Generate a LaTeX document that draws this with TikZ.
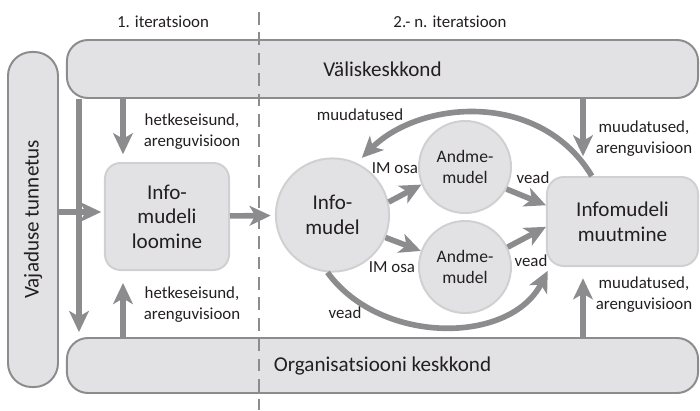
\documentclass[tikz,border=0pt]{standalone}
\usepackage{fontspec}
\setmainfont{Carlito}
\usetikzlibrary{arrows.meta}

\definecolor{panelfill}{RGB}{226,226,228}
\definecolor{panelline}{RGB}{140,140,142}
\definecolor{stepline}{RGB}{208,208,210}
\definecolor{flowgray}{RGB}{140,140,142}
\definecolor{ink}{RGB}{35,31,32}

\newcommand{\bigtext}{\fontsize{15}{17.5}\selectfont}
\newcommand{\midtext}{\fontsize{12.5}{15.5}\selectfont}
\newcommand{\smalltext}{\fontsize{12}{15}\selectfont}

\tikzset{
	panel/.style={draw=panelline, line width=1.4pt, fill=panelfill, rounded corners=15pt,
		inner sep=0pt, text=ink, font=\bigtext},
	stepbox/.style={draw=stepline, line width=1.4pt, fill=panelfill, rounded corners=11pt,
		inner sep=0pt, align=center, text=ink, font=\bigtext},
	bubble/.style={circle, draw=stepline, line width=1.4pt, fill=panelfill,
		inner sep=0pt, align=center, text=ink},
	flow/.style={draw=flowgray, line width=4pt, -{Stealth[length=15pt, width=14pt, inset=4pt]}},
	lbl/.style={inner sep=0pt, align=center, text=ink, font=\smalltext},
}

\begin{document}
\begin{tikzpicture}[x=0.025cm, y=-0.025cm]
	\useasboundingbox (0,0) rectangle (700,410);

	\node[panel, minimum width=15.775cm, minimum height=1.45cm] (valis) at (382.5,69) {Väliskeskkond};
	\node[panel, minimum width=15.775cm, minimum height=1.375cm] (org) at (382.5,365.5) {Organisatsiooni keskkond};
	\node[panel, rounded corners=17pt, minimum width=1.25cm, minimum height=8.375cm] (vajadus) at (33,219.5) {};
	\node[rotate=90, text=ink, font=\bigtext, inner sep=0pt] (vajadustext) at (vajadus.center) {Vajaduse tunnetus};

	\node[stepbox, minimum width=3.1cm, minimum height=2.675cm] (loomine) at (167,216.5) {Info-\\mudeli\\loomine};
	\node[bubble, minimum size=2.83cm, font=\bigtext] (infomudel) at (332.5,215) {Info-\\mudel};
	\node[bubble, minimum size=2.3cm, font=\midtext] (andme1) at (465,167) {Andme-\\mudel};
	\node[bubble, minimum size=2.3cm, font=\midtext] (andme2) at (465,267) {Andme-\\mudel};
	\node[stepbox, rounded corners=12pt, minimum width=3.775cm, minimum height=2.225cm] (muutmine) at (622.5,221.5) {Infomudeli\\muutmine};

	\draw[panelline, line width=1.3pt, dash pattern=on 9pt off 5.5pt] (259,12) -- (259,410);

	\node[lbl] (iter1) at (163,22) {1. iteratsioon};
	\node[lbl] (iter2) at (450,22) {2.- n. iteratsioon};

	\coordinate (lrail) at (79,0);
	\coordinate (crail) at (123,0);
	\coordinate (rrail) at (583,0);
	\coordinate (hrow) at (0,212);

	\draw[flow, shorten >=3.5pt] (valis.south -| lrail) -- (org.north -| lrail);
	\draw[flow, shorten >=2pt] (vajadus.east |- hrow) -- (loomine.west |- hrow);
	\draw[flow, shorten >=5.5pt] (valis.south -| crail) -- (loomine.north -| crail);
	\draw[flow, shorten >=8.5pt] (org.north -| crail) -- (loomine.south -| crail);
	\draw[flow, shorten >=3pt] (loomine) -- (infomudel);
	\draw[flow] (infomudel.13) -- (andme1.202);
	\draw[flow] (infomudel.337) -- (andme2.160);
	\draw[flow] (andme1.332) -- (muutmine.168);
	\draw[flow] (andme2.25) -- (muutmine.184);
	\draw[flow, shorten >=5pt] (muutmine.124) .. controls (540,90) and (420,100) .. (infomudel.65);
	\draw[flow, shorten >=3pt] (infomudel.265) .. controls (380,345) and (510,345) .. (muutmine.212);
	\draw[flow, shorten >=14pt] (valis.south -| rrail) -- (muutmine.north -| rrail);
	\draw[flow, shorten >=8pt] (org.north -| rrail) -- (muutmine.south -| rrail);

	\node[lbl] (seis1) at (192,132) {hetkeseisund,\\arenguvisioon};
	\node[lbl] (seis2) at (192,305) {hetkeseisund,\\arenguvisioon};
	\node[lbl] (muud1) at (644,139) {muudatused,\\arenguvisioon};
	\node[lbl] (muud2) at (644,295) {muudatused,\\arenguvisioon};
	\node[lbl] (muud3) at (360,115) {muudatused};
	\node[lbl] (osa1) at (395,168) {IM osa};
	\node[lbl] (osa2) at (392,267) {IM osa};
	\node[lbl] (vead1) at (533,178) {vead};
	\node[lbl] (vead2) at (531,261) {vead};
	\node[lbl] (vead3) at (345,313) {vead};
\end{tikzpicture}
\end{document}
